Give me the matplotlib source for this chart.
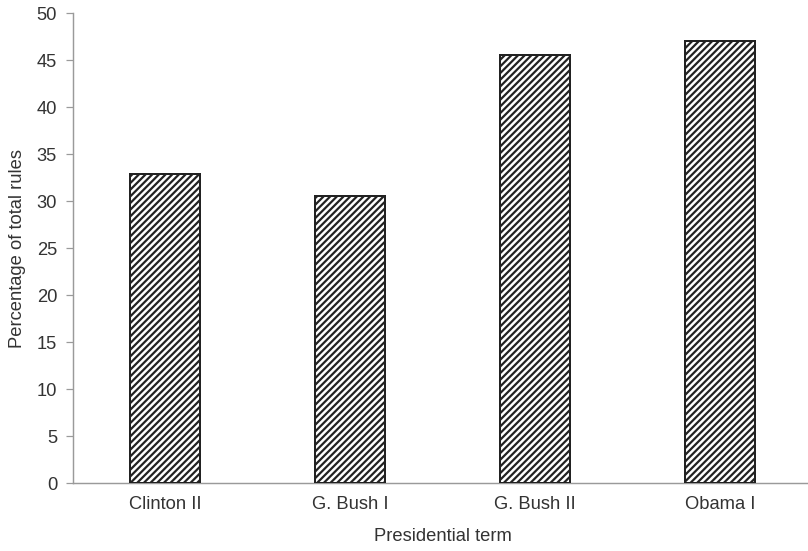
import matplotlib
matplotlib.use("Agg")
import matplotlib.pyplot as plt
import numpy as np

terms = ["Clinton II", "G. Bush I", "G. Bush II", "Obama I"]
pct_rules = [32.9, 30.5, 45.5, 47.0]
y_ticks = [0, 5, 10, 15, 20, 25, 30, 35, 40, 45, 50]

plt.rcParams['font.family'] = ['Liberation Sans', 'DejaVu Sans']
plt.rcParams['hatch.linewidth'] = 2.0
plt.rcParams['hatch.color'] = '#1a1a1a'

txt = '#333333'
grey = '#9a9a9a'

fig = plt.figure(figsize=(10.1, 6.8875), dpi=80)
ax = fig.add_axes([0.0903, 0.1234, 0.915, 0.8530])

x = np.arange(len(terms))
ax.bar(x, pct_rules, width=0.378, color='white', edgecolor='#222222',
       linewidth=1.8, hatch='////', zorder=3)

ax.set_xlim(-0.5, 3.5)
ax.set_ylim(0, 50)
ax.set_yticks(y_ticks)
ax.set_xticks(x)
ax.set_xticklabels(terms)

for s in ['top', 'right']:
    ax.spines[s].set_visible(False)
for s in ['left', 'bottom']:
    ax.spines[s].set_color(grey)
    ax.spines[s].set_linewidth(1.3)

ax.tick_params(axis='y', length=6.3, width=1.1, color=grey, pad=8,
               labelsize=16.5, labelcolor=txt)
ax.tick_params(axis='x', length=0, pad=12, labelsize=16.5, labelcolor=txt)

ax.set_ylabel("Percentage of total rules", fontsize=16.5, color=txt, labelpad=10)
ax.set_xlabel("Presidential term", fontsize=16.5, color=txt, labelpad=13)

fig.savefig("out.png", dpi=80)
